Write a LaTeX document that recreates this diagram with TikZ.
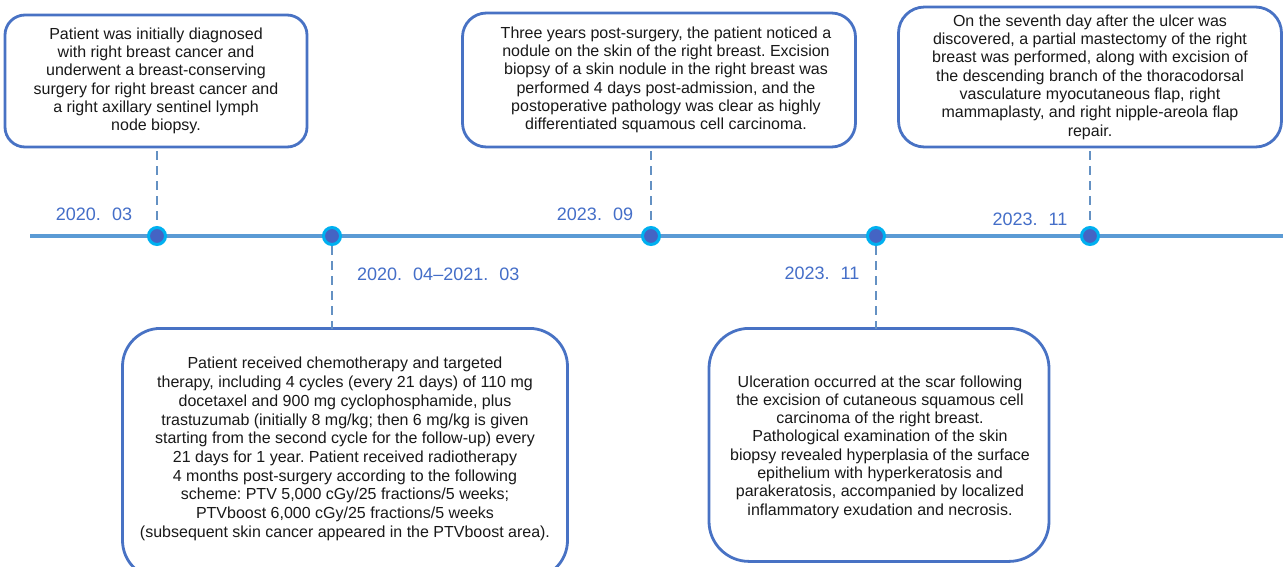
\documentclass[tikz,border=0pt]{standalone}
\usepackage{fontspec}
\setmainfont{Liberation Sans}
\frenchspacing
\definecolor{boxblue}{RGB}{72,114,196}
\definecolor{lineblue}{RGB}{91,155,213}
\definecolor{dotout}{RGB}{0,176,240}
\definecolor{dotin}{RGB}{68,100,196}
\definecolor{dashblue}{RGB}{100,145,195}
\definecolor{datecol}{RGB}{68,110,200}
\tikzset{
  evbox/.style={draw=boxblue, line width=2.8pt, fill=white, align=center, inner sep=0pt,
    font=\fontsize{16}{18.3}\selectfont, text=black!90},
  dot/.style={circle, fill=dotin, draw=dotout, line width=3pt, minimum size=17pt, inner sep=0pt},
  conn/.style={draw=dashblue, line width=1.8pt, dash pattern=on 9pt off 6pt},
  datelbl/.style={text=datecol, font=\fontsize{18}{20}\selectfont, inner sep=0pt},
}
\begin{document}
\begin{tikzpicture}[x=1pt,y=-1pt]
\clip (0,0) rectangle (1283,566);
\fill[white] (0,0) rectangle (1283,566);
% timeline
\coordinate (tl0) at (30,236);
\coordinate (tl1) at (1290,236);
\draw[lineblue, line width=4pt] (tl0) -- (tl1);
% boxes
\node[evbox, rounded corners=20pt, minimum width=302pt, minimum height=132pt] (b1) at (156,81)
 {Patient was initially diagnosed\\with right breast cancer and\\underwent a breast-conserving\\surgery for right breast cancer and\\a right axillary sentinel lymph\\node biopsy.};
\node[evbox, rounded corners=24pt, minimum width=393pt, minimum height=134pt] (b2) at (659,80)
 {\hspace*{14pt}Three years post-surgery, the patient noticed a\\\hspace*{14pt}nodule on the skin of the right breast. Excision\\\hspace*{14pt}biopsy of a skin nodule in the right breast was\\\hspace*{14pt}performed 4 days post-admission, and the\\\hspace*{14pt}postoperative pathology was clear as highly\\\hspace*{14pt}differentiated squamous cell carcinoma.};
\node[evbox, rounded corners=26pt, minimum width=383pt, minimum height=140pt] (b3) at (1090,77)
 {On the seventh day after the ulcer was\\discovered, a partial mastectomy of the right\\breast was performed, along with excision of\\the descending branch of the thoracodorsal\\vasculature myocutaneous flap, right\\mammaplasty, and right nipple-areola flap\\repair.};
\node[evbox, rounded corners=38pt, minimum width=445pt, minimum height=250pt, anchor=north] (b4) at (345,327) {};
\node[align=center, font=\fontsize{16}{18.7}\selectfont, text=black!90] (t4) at (345,449)
 {Patient received chemotherapy and targeted\\therapy, including 4 cycles (every 21 days) of 110 mg\\docetaxel and 900 mg cyclophosphamide, plus\\trastuzumab (initially 8 mg/kg; then 6 mg/kg is given\\starting from the second cycle for the follow-up) every\\21 days for 1 year. Patient received radiotherapy\\4 months post-surgery according to the following\\scheme: PTV 5,000 cGy/25 fractions/5 weeks;\\PTVboost 6,000 cGy/25 fractions/5 weeks\\(subsequent skin cancer appeared in the PTVboost area).};
\node[evbox, rounded corners=40pt, minimum width=340pt, minimum height=233pt, anchor=north] (b5) at (879,327) {};
\node[align=center, font=\fontsize{16}{18.3}\selectfont, text=black!90] (t5) at (880,447)
 {Ulceration occurred at the scar following\\the excision of cutaneous squamous cell\\carcinoma of the right breast.\\Pathological examination of the skin\\biopsy revealed hyperplasia of the surface\\epithelium with hyperkeratosis and\\parakeratosis, accompanied by localized\\inflammatory exudation and necrosis.};
% dots
\node[dot] (d1) at (157,236) {};
\node[dot] (d2) at (332,236) {};
\node[dot] (d3) at (651,236) {};
\node[dot] (d4) at (876,236) {};
\node[dot] (d5) at (1090,236) {};
% connectors
\draw[conn] (d1 |- b1.south) ++(0,3) -- (d1.north);
\draw[conn] (d3 |- b2.south) ++(0,3) -- (d3.north);
\draw[conn] (d5 |- b3.south) ++(0,3) -- (d5.north);
\draw[conn] (d2.south) -- ([yshift=-2pt]d2 |- b4.north);
\draw[conn] (d4.south) -- ([yshift=-2pt]d4 |- b5.north);
% dates
\node[datelbl, anchor=base] (l1) at (94,220) {2020.\hspace{11pt}03};
\node[datelbl, anchor=base west] (l2) at (357,280) {2020.\hspace{11pt}04--2021.\hspace{11pt}03};
\node[datelbl, anchor=base] (l3) at (595,220) {2023.\hspace{11pt}09};
\node[datelbl, anchor=base] (l4) at (822,279) {2023.\hspace{11pt}11};
\node[datelbl, anchor=base] (l5) at (1030,225) {2023.\hspace{11pt}11};
\end{tikzpicture}
\end{document}
